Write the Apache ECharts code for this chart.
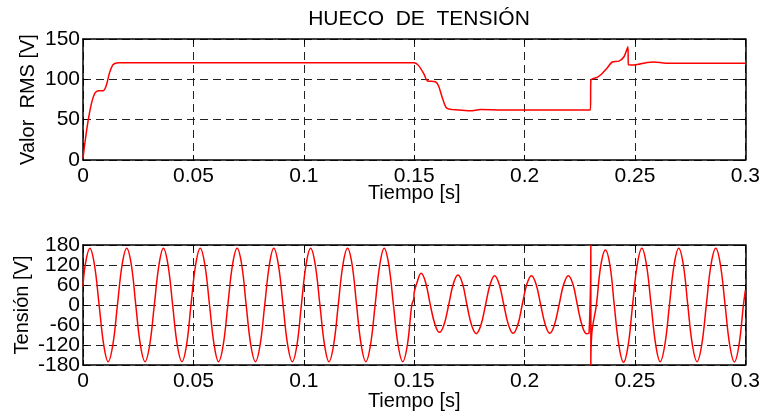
<!DOCTYPE html>
<html>
<head>
<meta charset="utf-8">
<script src="https://cdn.jsdelivr.net/npm/echarts@6.0.0/dist/echarts.min.js"></script>
<style>
  html, body { margin: 0; padding: 0; background: #fff; }
  #chart { width: 763px; height: 414px; }
</style>
</head>
<body>
<div id="chart"></div>
<script>
// valores
var titulo = 'HUECO  DE  TENSIÓN';
var xTicks = [0, 0.05, 0.1, 0.15, 0.2, 0.25, 0.3];
var rmsTicks = [0, 50, 100, 150];
var tensionTicks = [-180, -120, -60, 0, 60, 120, 180];

// valor RMS [V]
var rmsT = [0, 0.0010, 0.0024, 0.0040, 0.0054, 0.0070, 0.0092, 0.0105, 0.0120, 0.0135, 0.0148, 0.0160,
  0.1500, 0.1520, 0.1545, 0.1560, 0.1596, 0.1610, 0.1630, 0.1649, 0.1700, 0.1754, 0.1800, 0.1900,
  0.2298, 0.2300, 0.2329, 0.2350, 0.2374, 0.2397, 0.2427, 0.2450, 0.2468, 0.2470, 0.2495, 0.2555,
  0.2585, 0.2640, 0.2800, 0.3000];
var rmsV = [2, 24, 50, 72, 83, 86, 86, 92, 108, 118, 120, 120.5,
  120.5, 117, 106, 98, 97, 92, 75, 64, 62, 61, 62.5, 62,
  62, 99, 102.5, 107, 114, 121.5, 122.5, 128, 140.5, 118, 117.8, 121,
  121.5, 120, 120, 120];

// tension instantanea [V]
var waveT = [0, 0.0010,
  0.0031, 0.0052, 0.0073, 0.0094, 0.0114, 0.0135, 0.0156, 0.0177,
  0.0198, 0.0219, 0.0239, 0.0260, 0.0281, 0.0302, 0.0323, 0.0344,
  0.0364, 0.0385, 0.0406, 0.0427, 0.0448, 0.0469, 0.0489, 0.0510,
  0.0531, 0.0552, 0.0573, 0.0594, 0.0614, 0.0635, 0.0656, 0.0677,
  0.0698, 0.0719, 0.0739, 0.0760, 0.0781, 0.0802, 0.0823, 0.0844,
  0.0864, 0.0885, 0.0906, 0.0927, 0.0948, 0.0969, 0.0989, 0.1010,
  0.1031, 0.1052, 0.1073, 0.1094, 0.1114, 0.1135, 0.1156, 0.1177,
  0.1198, 0.1219, 0.1239, 0.1260, 0.1281, 0.1302, 0.1323, 0.1344,
  0.1364, 0.1385, 0.1406, 0.1427, 0.1448, 0.1469, 0.1489, 0.1498, 0.1500, 0.1512,
  0.1531, 0.1552, 0.1573, 0.1594, 0.1614, 0.1635, 0.1656, 0.1677,
  0.1698, 0.1719, 0.1739, 0.1760, 0.1781, 0.1802, 0.1823, 0.1844,
  0.1864, 0.1885, 0.1906, 0.1927, 0.1948, 0.1969, 0.1989, 0.2010,
  0.2031, 0.2052, 0.2073, 0.2094, 0.2114, 0.2135, 0.2156, 0.2177,
  0.2198, 0.2219, 0.2239, 0.2260, 0.2281, 0.2292, 0.2300, 0.2300, 0.2304, 0.2325, 0.2345,
  0.2366, 0.2387, 0.2406, 0.2427, 0.2448, 0.2469, 0.2489, 0.2510,
  0.2531, 0.2552, 0.2573, 0.2594, 0.2614, 0.2635, 0.2656, 0.2677,
  0.2698, 0.2719, 0.2739, 0.2760, 0.2781, 0.2802, 0.2823, 0.2844,
  0.2866, 0.2887, 0.2908, 0.2929, 0.2950, 0.2971, 0.2991, 0.3000];
var waveV = [55, 120,
  170, 120, 0, -120, -170, -120, 0, 120,
  170, 120, 0, -120, -170, -120, 0, 120,
  170, 120, 0, -120, -170, -120, 0, 120,
  170, 120, 0, -120, -170, -120, 0, 120,
  170, 120, 0, -120, -170, -120, 0, 120,
  170, 120, 0, -120, -170, -120, 0, 120,
  170, 120, 0, -120, -170, -120, 0, 120,
  170, 120, 0, -120, -170, -120, 0, 120,
  170, 120, 0, -120, -170, -120, 0, 18, 38, 66,
  95, 67, 0, -58, -82, -59, 0, 63,
  90, 64, 0, -61, -86, -61, 0, 62,
  88, 62, 0, -60, -85, -60, 0, 62,
  88, 62, 0, -60, -85, -60, 0, 62,
  88, 62, 0, -61, -86, -83, 180, -182, -88, 0, 118,
  165, 117, 0, -121, -172, -121, 0, 120,
  170, 120, 0, -120, -170, -120, 0, 120,
  170, 120, 0, -120, -170, -120, 0, 120,
  170, 120, 0, -120, -171, -120, 0, 45];

function pares(t, v) {
  return t.map(function (x, i) { return [x, v[i]]; });
}

var fuente = 'Liberation Sans, Arial, sans-serif';
var gridLine = { show: true, lineStyle: { color: '#222', width: 1, type: [8, 5] } };
var boxLine = { show: true, onZero: false, lineStyle: { color: '#000', width: 1.5 } };
var tick = { show: true, inside: true, length: 5, lineStyle: { color: '#000', width: 1 } };

function ejeX(grid, pos, principal, gap) {
  return {
    type: 'value', gridIndex: grid, position: pos, min: 0, max: 0.3, interval: 0.05,
    axisLine: boxLine, axisTick: tick,
    splitLine: principal ? gridLine : { show: false },
    axisLabel: principal ? {
      show: true, color: '#000', fontFamily: fuente, fontSize: 21, margin: 6,
      showMinLabel: true, showMaxLabel: true, hideOverlap: false,
      formatter: function (v) { return xTicks.indexOf(+v.toFixed(2)) >= 0 ? String(+v.toFixed(2)) : ''; }
    } : { show: false },
    name: principal ? 'Tiempo [s]' : '', nameLocation: 'middle', nameGap: gap || 0,
    nameMoveOverlap: false,
    nameTextStyle: { color: '#000', fontFamily: fuente, fontSize: 20 }
  };
}

// mostrar: valores cuya etiqueta dibuja este eje (null = todos, [] = ninguno)
function ejeY(grid, pos, principal, ticks, mostrar, nombre, gap) {
  var lo = ticks[0], hi = ticks[ticks.length - 1];
  var soloEtiquetas = principal === 'etiquetas';
  return {
    type: 'value', gridIndex: grid, position: pos, min: lo, max: hi, interval: ticks[1] - ticks[0],
    axisLine: soloEtiquetas ? { show: false } : boxLine,
    axisTick: soloEtiquetas ? { show: false } : tick,
    splitLine: principal === true ? gridLine : { show: false },
    axisLabel: (mostrar === null || mostrar.length) ? {
      show: true, color: '#000', fontFamily: fuente, fontSize: 21, margin: 3,
      showMinLabel: true, showMaxLabel: true, hideOverlap: false,
      formatter: function (v) { return (mostrar === null || mostrar.indexOf(v) >= 0) ? String(v) : ''; }
    } : { show: false },
    name: nombre || '', nameLocation: 'middle', nameGap: gap || 0,
    nameMoveOverlap: false,
    nameTextStyle: { color: '#000', fontFamily: fuente, fontSize: 20 }
  };
}

var chart = echarts.init(document.getElementById('chart'), null, { renderer: 'canvas' });
chart.setOption({
  backgroundColor: '#fff',
  animation: false,
  title: {
    text: titulo, left: 414, textAlign: 'center', top: 4,
    textStyle: { color: '#000', fontFamily: fuente, fontSize: 21, fontWeight: 'normal' }
  },
  grid: [
    { left: 83, right: 17, top: 39, height: 121 },
    { left: 83, right: 17, top: 245, height: 120 }
  ],
  xAxis: [
    ejeX(0, 'bottom', true, 23), ejeX(0, 'top', false),
    ejeX(1, 'bottom', true, 26), ejeX(1, 'top', false)
  ],
  yAxis: [
    ejeY(0, 'left', true, rmsTicks, null, 'Valor  RMS [V]', 45),
    ejeY(0, 'right', false, rmsTicks, []),
    ejeY(1, 'left', true, tensionTicks, [-180, -60, 60, 180], 'Tensión [V]', 51),
    ejeY(1, 'right', false, tensionTicks, []),
    ejeY(1, 'left', 'etiquetas', tensionTicks, [-120, 0, 120])
  ],
  series: [
    {
      name: 'Valor RMS', type: 'line', xAxisIndex: 0, yAxisIndex: 0,
      data: pares(rmsT, rmsV), showSymbol: false, smooth: 0.3,
      lineStyle: { color: '#ff0000', width: 1.5 }
    },
    {
      name: 'Tensión', type: 'line', xAxisIndex: 2, yAxisIndex: 2,
      data: pares(waveT, waveV), showSymbol: false, smooth: 0.4,
      lineStyle: { color: '#ff0000', width: 1.5 }
    }
  ]
});
</script>
</body>
</html>
